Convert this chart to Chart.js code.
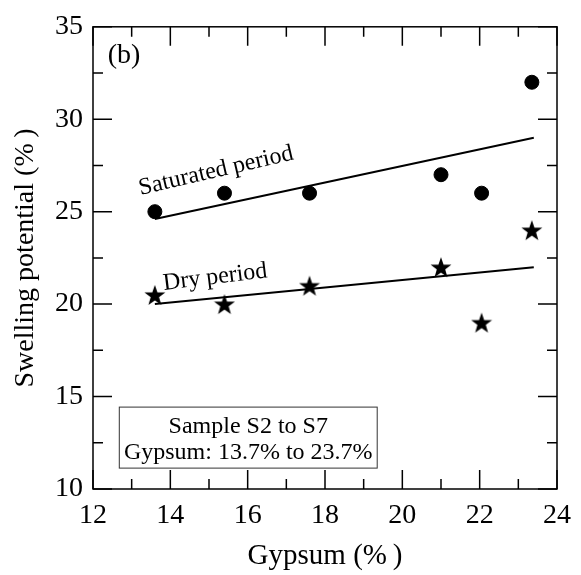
<!DOCTYPE html>
<html lang="en">
<head>
  <meta charset="UTF-8">
  <title>Swelling potential vs gypsum</title>
  <script src="https://cdn.jsdelivr.net/npm/chart.js"></script>
  <style>
    body { margin: 0; background: #fff; }
    canvas { display: block; }
  </style>
</head>
<body>
  <canvas id="swellChart" width="581" height="575"></canvas>

  <script>
    // Gypsum content of each sample (%)
    const gypsum = [13.6, 15.4, 17.6, 21.0, 22.05, 23.35];
    // Swelling potential (%)
    const saturated = [25, 26, 26, 27, 26, 32];
    const dry = [20.5, 20, 21, 22, 19, 24];

    // fitted trend lines (end points)
    const fitX = [13.6, 23.4];
    const saturatedFit = [24.6, 29.0];
    const dryFit = [20.0, 22.0];

    const xTicks = [12, 14, 16, 18, 20, 22, 24];
    const yTicks = [10, 15, 20, 25, 30, 35];

    const FONT = '"Liberation Serif", "Times New Roman", serif';

    function toPoints(xs, ys) {
      return xs.map((x, i) => ({ x: x, y: ys[i] }));
    }

    // filled five point star used as the marker for the dry period
    function makeStar(size) {
      const c = document.createElement('canvas');
      c.width = size; c.height = size;
      const g = c.getContext('2d');
      const r = size / 2, ri = r * 0.4;
      g.beginPath();
      for (let i = 0; i < 10; i++) {
        const rad = i % 2 === 0 ? r : ri;
        const a = -Math.PI / 2 + i * Math.PI / 5;
        const px = r + rad * Math.cos(a), py = r + 1 + rad * Math.sin(a);
        if (i === 0) g.moveTo(px, py); else g.lineTo(px, py);
      }
      g.closePath();
      g.fillStyle = '#000';
      g.fill();
      return c;
    }

    // frame and inward ticks on all four sides
    const frameTicks = {
      id: 'frameTicks',
      afterDatasetsDraw(chart) {
        const { ctx, chartArea: a, scales: { x, y } } = chart;
        ctx.save();
        ctx.strokeStyle = '#000';
        ctx.lineWidth = 1.5;
        ctx.strokeRect(a.left, a.top, a.right - a.left, a.bottom - a.top);
        for (let v = 12; v <= 24; v += 1) {
          const px = x.getPixelForValue(v);
          const len = v % 2 === 0 ? 19 : 10;
          ctx.beginPath();
          ctx.moveTo(px, a.bottom); ctx.lineTo(px, a.bottom - len);
          ctx.moveTo(px, a.top); ctx.lineTo(px, a.top + len);
          ctx.stroke();
        }
        for (let v = 10; v <= 35; v += 2.5) {
          const py = y.getPixelForValue(v);
          const len = v % 5 === 0 ? 19 : 10;
          ctx.beginPath();
          ctx.moveTo(a.left, py); ctx.lineTo(a.left + len, py);
          ctx.moveTo(a.right, py); ctx.lineTo(a.right - len, py);
          ctx.stroke();
        }
        ctx.restore();
      }
    };

    // text labels and the sample box
    const notes = {
      id: 'notes',
      afterDatasetsDraw(chart) {
        const { ctx, scales: { x, y } } = chart;
        ctx.save();
        ctx.fillStyle = '#000';
        ctx.textBaseline = 'middle';

        ctx.font = '28px ' + FONT;
        ctx.textAlign = 'left';
        ctx.fillText('(b)', x.getPixelForValue(12.38), y.getPixelForValue(33.45));

        ctx.font = '24px ' + FONT;
        ctx.textAlign = 'center';
        ctx.save();
        ctx.translate(x.getPixelForValue(15.18), y.getPixelForValue(27.2));
        ctx.rotate(-13 * Math.PI / 180);
        ctx.fillText('Saturated period', 0, 0);
        ctx.restore();

        ctx.save();
        ctx.translate(x.getPixelForValue(15.16), y.getPixelForValue(21.45));
        ctx.rotate(-7 * Math.PI / 180);
        ctx.fillText('Dry period', 0, 0);
        ctx.restore();

        const bl = x.getPixelForValue(12.68), br = x.getPixelForValue(19.35);
        const bt = y.getPixelForValue(14.43), bb = y.getPixelForValue(11.13);
        ctx.strokeStyle = '#333';
        ctx.lineWidth = 1;
        ctx.strokeRect(bl, bt, br - bl, bb - bt);
        const cx = (bl + br) / 2;
        ctx.fillText('Sample S2 to S7', cx, bt + 20);
        ctx.fillText('Gypsum: 13.7% to 23.7%', cx, bt + 46);
        ctx.restore();
      }
    };

    const ctx = document.getElementById('swellChart').getContext('2d');
    new Chart(ctx, {
      type: 'scatter',
      data: {
        datasets: [
          {
            label: 'Saturated period',
            data: toPoints(gypsum, saturated),
            pointStyle: 'circle',
            pointRadius: 7,
            backgroundColor: '#000',
            borderColor: '#000'
          },
          {
            label: 'Dry period',
            data: toPoints(gypsum, dry),
            pointStyle: makeStar(22),
            pointRadius: 11,
            backgroundColor: '#000',
            borderColor: '#000'
          },
          {
            label: 'Saturated trend',
            data: toPoints(fitX, saturatedFit),
            showLine: true,
            pointRadius: 0,
            borderColor: '#000',
            borderWidth: 2
          },
          {
            label: 'Dry trend',
            data: toPoints(fitX, dryFit),
            showLine: true,
            pointRadius: 0,
            borderColor: '#000',
            borderWidth: 2
          }
        ]
      },
      options: {
        responsive: false,
        animation: false,
        layout: { padding: { left: 0, top: 18, right: 18, bottom: 0 } },
        plugins: {
          legend: { display: false },
          tooltip: { enabled: false }
        },
        scales: {
          x: {
            type: 'linear',
            min: 12, max: 24,
            afterBuildTicks: s => { s.ticks = xTicks.map(v => ({ value: v })); },
            afterFit: s => { s.height = 86; },
            grid: { display: false, drawTicks: false },
            border: { display: false },
            ticks: { color: '#000', padding: 10, font: { family: FONT, size: 28 } },
            title: {
              display: true, text: 'Gypsum (%\u2009)', color: '#000',
              padding: { top: 4, bottom: 1 },
              font: { family: FONT, size: 29 }
            }
          },
          y: {
            type: 'linear',
            min: 10, max: 35,
            afterBuildTicks: s => { s.ticks = yTicks.map(v => ({ value: v })); },
            afterFit: s => { s.width = 93; },
            grid: { display: false, drawTicks: false },
            border: { display: false },
            ticks: { color: '#000', padding: 10, font: { family: FONT, size: 28 } },
            title: {
              display: true, text: 'Swelling potential (%\u2009)', color: '#000',
              padding: { top: 9, bottom: 0 },
              font: { family: FONT, size: 28 }
            }
          }
        }
      },
      plugins: [frameTicks, notes]
    });
  </script>
</body>
</html>
